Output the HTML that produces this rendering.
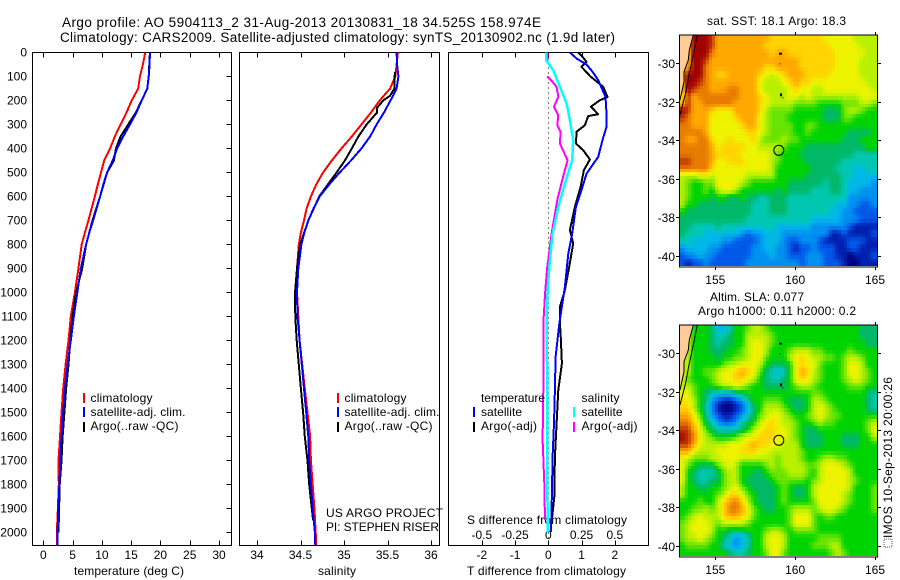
<!DOCTYPE html>
<html>
<head>
<meta charset="utf-8">
<title>Argo profile 5904113</title>
<style>
html,body{margin:0;padding:0;background:#fff;}
svg{display:block;}
text{font-family:"Liberation Sans",sans-serif;font-size:12px;fill:#000;}
</style>
</head>
<body>
<svg id="chart" xmlns="http://www.w3.org/2000/svg" width="900" height="580" viewBox="0 0 900 580">
<rect x="0" y="0" width="900" height="580" fill="#fff"/>
<text x="62" y="27" textLength="479" lengthAdjust="spacing" style="font-size:13.5px">Argo profile: AO 5904113_2 31-Aug-2013 20130831_18 34.525S 158.974E</text>
<text x="60" y="42" textLength="555" lengthAdjust="spacing" style="font-size:13.5px">Climatology: CARS2009. Satellite-adjusted climatology: synTS_20130902.nc (1.9d later)</text>
<text x="74" y="575" textLength="110" lengthAdjust="spacing">temperature (deg C)</text>
<text x="318" y="575" textLength="38" lengthAdjust="spacing">salinity</text>
<text x="467" y="575" textLength="159" lengthAdjust="spacing">T difference from climatology</text>
<text x="467" y="524" textLength="160" lengthAdjust="spacing">S difference from climatology</text>
<g id="panels"></g>
<g>
<rect x="83" y="393" width="2" height="10" fill="#f00"/>
<rect x="83" y="407" width="2" height="10" fill="#00f"/>
<rect x="83" y="422" width="2" height="10" fill="#000"/>
<text x="90.5" y="402" textLength="62" lengthAdjust="spacing">climatology</text>
<text x="90.5" y="416" textLength="95" lengthAdjust="spacing">satellite-adj. clim.</text>
<text x="90.5" y="430" textLength="88" lengthAdjust="spacing">Argo(..raw -QC)</text>
</g>
<g>
<rect x="337" y="393" width="2" height="10" fill="#f00"/>
<rect x="337" y="407" width="2" height="10" fill="#00f"/>
<rect x="337" y="422" width="2" height="10" fill="#000"/>
<text x="344.5" y="402" textLength="62" lengthAdjust="spacing">climatology</text>
<text x="344.5" y="416" textLength="95" lengthAdjust="spacing">satellite-adj. clim.</text>
<text x="344.5" y="430" textLength="88" lengthAdjust="spacing">Argo(..raw -QC)</text>
<text x="326" y="517" textLength="117" lengthAdjust="spacing">US ARGO PROJECT</text>
<text x="326" y="531" textLength="113" lengthAdjust="spacing">PI: STEPHEN RISER</text>
</g>
<g>
<text x="481" y="402" textLength="64" lengthAdjust="spacing">temperature</text>
<rect x="473" y="407" width="2" height="10" fill="#00f"/>
<text x="481" y="416" textLength="41" lengthAdjust="spacing">satellite</text>
<rect x="473" y="422" width="2" height="10" fill="#000"/>
<text x="481" y="430" textLength="56" lengthAdjust="spacing">Argo(-adj)</text>
<text x="581.5" y="402" textLength="38" lengthAdjust="spacing">salinity</text>
<rect x="573" y="407" width="2" height="10" fill="#0ff"/>
<text x="581.5" y="416" textLength="41" lengthAdjust="spacing">satellite</text>
<rect x="573" y="422" width="2" height="10" fill="#f0f"/>
<text x="581.5" y="430" textLength="56" lengthAdjust="spacing">Argo(-adj)</text>
</g>
<text x="707" y="25" textLength="139" lengthAdjust="spacing">sat. SST: 18.1  Argo: 18.3</text>
<text x="710" y="301" textLength="94" lengthAdjust="spacing">Altim. SLA: 0.077</text>
<text x="698" y="315" textLength="158" lengthAdjust="spacing">Argo h1000: 0.11 h2000: 0.2</text>
<g id="maps"></g>
<g>
<rect x="884" y="539" width="8" height="8" fill="none" stroke="#555" stroke-width="1" stroke-dasharray="1 1"/>
<text transform="translate(892,538) rotate(-90)" textLength="161" lengthAdjust="spacing">IMOS 10-Sep-2013 20:00:26</text>
</g>
</svg>
<script>
var depthTicks = [0,100,200,300,400,500,600,700,800,900,1000,1100,1200,1300,1400,1500,1600,1700,1800,1900,2000];
var tempTicks = [0,5,10,15,20,25,30];
var salTicks = [34,34.5,35,35.5,36];
var salTickLabels = ['34','34.5','35','35.5','36'];
var tDiffTicks = [-2,-1,0,1,2];
var sDiffTicks = [-0.5,-0.25,0,0.25,0.5];
var sDiffTickLabels = ['-0.5','-0.25','0','0.25','0.5'];
var lonTicks = [155,160,165];
var latTicks = [-30,-32,-34,-36,-38,-40];

var profileDepths = [0,50,100,150,200,250,300,350,400,450,500,550,600,650,700,750,800,900,1000,1100,1200,1300,1400,1500,1600,1700,1800,1900,2000,2056];
var tempClim = [17.4,17.0,16.5,16.2,15.1,14.2,13.2,12.2,11.4,10.4,9.85,9.3,8.8,8.25,7.7,7.1,6.55,6.0,5.4,4.7,4.3,3.8,3.4,3.1,2.85,2.6,2.65,2.5,2.3,2.3];
var tempSat = [18.2,18.15,18.0,17.75,16.8,15.9,14.8,13.65,12.6,11.85,10.9,10.25,9.7,9.1,8.5,7.85,7.3,6.4,5.8,5.2,4.7,4.15,3.7,3.4,3.1,2.9,2.75,2.55,2.45,2.4];
var tempArgoDepths = [0,100,150,200,250,300,350,400,450,500,600,700,800,900,1000,1100,1200,1300,1400,1500,1600,1700,1800,1900,2000];
var tempArgo = [18.2,18.0,17.75,16.8,15.8,14.5,13.2,12.4,12.05,10.9,9.7,8.4,7.3,6.65,5.6,5.0,4.6,4.3,3.9,3.6,3.3,3.1,2.8,2.7,2.6];

var salClim = [35.62,35.605,35.59,35.53,35.41,35.31,35.2,35.09,34.97,34.86,34.76,34.68,34.62,34.57,34.54,34.505,34.48,34.46,34.46,34.475,34.49,34.52,34.55,34.58,34.61,34.62,34.64,34.66,34.675,34.68];
var salSat = [35.605,35.61,35.625,35.605,35.535,35.46,35.375,35.3,35.2,35.08,34.95,34.83,34.72,34.65,34.59,34.545,34.51,34.475,34.46,34.465,34.49,34.515,34.54,34.565,34.59,34.6,34.62,34.64,34.665,34.67];
var salArgoDepths = [80,100,150,180,200,230,250,300,350,400,450,500,600,700,800,900,1000,1100,1200,1300,1400,1500,1600,1700,1800,1900,1950];
var salArgo = [35.59,35.58,35.58,35.53,35.45,35.38,35.38,35.26,35.165,35.09,35.01,34.915,34.715,34.59,34.495,34.46,34.437,34.44,34.456,34.48,34.505,34.53,34.55,34.58,34.6,34.63,34.645];

var tDiffSatDepths = [0,25,50,80,115,185,255,310,365,435,505,560,643,754,838,976,1129,1268,1406,1545,1684,1823,1997];
var tDiffSat = [0.65,0.85,1.15,1.33,1.5,1.72,1.75,1.75,1.63,1.5,1.15,1.03,0.83,0.72,0.6,0.5,0.33,0.22,0.2,0.17,0.13,0.11,0.08];
var tDiffArgoDepths = [0,18,39,60,100,143,185,199,226,257,265,303,330,379,407,446,490,560,643,740,796,893,990,1060,1129,1170,1296,1406,1545,1684,1850,1960];
var tDiffArgo = [0.9,1.03,1.15,1.0,1.27,1.65,1.78,1.55,1.28,1.5,1.2,1.1,0.85,0.83,1.05,1.25,1.07,0.97,0.8,0.65,0.75,0.63,0.5,0.35,0.35,0.37,0.41,0.3,0.25,0.2,0.18,0.1];
var sDiffSatDepths = [0,32,74,143,212,282,365,449,532,643,754,893,990,1129,1406,1684,1960,2000];
var sDiffSat = [-0.0175,-0.0175,0.0375,0.0875,0.1375,0.1625,0.1875,0.18,0.1325,0.075,0.0325,0.0075,-0.005,-0.0125,-0.0075,-0.0075,-0.005,-0.005];
var sDiffArgoTopDepths = [4,40];
var sDiffArgoTop = [-0.0075,-0.0075];
var sDiffArgoDepths = [100,115,143,185,226,261,303,330,379,449,505,615,754,893,990,1129,1268,1406,1614,1794,1947];
var sDiffArgo = [-0.0075,0.02,0.0625,0.075,0.0425,0.075,0.0675,0.0925,0.0875,0.145,0.1175,0.0675,0.025,-0.0075,-0.0225,-0.0375,-0.0375,-0.0375,-0.0425,-0.03,-0.025];

var sstGrid = [
[12,12,15,15,15,14,12,12,12,12,12,12,12,12,12,11,11,11,11,11,11,11,11,11,10,10,10,10,10,9,9,9,9],
[12,12,15,15,15,14,12,12,12,12,12,12,12,12,11,11,11,11,11,11,11,11,11,11,11,10,10,10,10,10,9,9,9],
[12,12,15,15,15,13,12,12,12,12,12,12,12,12,12,11,12,12,11,11,11,11,11,11,11,11,10,10,10,10,10,9,9],
[12,12,15,15,14,12,12,12,12,12,12,12,12,12,12,12,12,12,12,12,11,11,11,11,11,11,10,10,10,10,9,9,9],
[12,12,15,15,13,12,12,12,12,12,12,12,12,12,11,11,12,12,12,12,11,11,11,11,11,11,10,10,10,10,9,9,9],
[12,15,15,15,13,12,11,11,12,12,12,12,12,11,10,9,10,11,12,12,12,11,11,11,11,10,10,10,10,10,9,9,9],
[12,15,15,14,13,12,12,12,12,12,12,12,12,10,9,9,9,10,11,12,11,11,10,10,10,10,10,10,10,10,10,9,9],
[12,15,14,13,13,12,12,12,13,13,12,12,12,10,9,9,9,9,10,11,10,10,9,9,10,10,10,10,10,10,10,10,9],
[10,14,12,13,13,13,13,13,13,13,12,12,12,11,10,9,9,9,10,10,9,10,9,9,9,9,9,9,9,9,10,10,10],
[12,14,12,12,13,13,13,13,13,12,12,12,12,11,10,9,9,9,9,8,8,8,8,7,7,7,7,8,8,8,9,9,8],
[15,14,12,12,12,11,10,10,10,12,12,12,12,11,9,8,8,8,8,7,7,7,7,7,6,6,6,8,9,9,8,7,7],
[14,13,12,12,12,10,10,10,10,11,12,12,12,10,9,8,8,8,7,7,7,7,7,7,6,6,6,8,8,7,7,7,7],
[13,13,12,12,12,10,10,10,10,10,11,12,12,10,9,8,8,8,8,7,7,8,8,7,7,7,7,7,7,7,7,7,7],
[13,13,13,13,12,10,10,10,10,10,10,11,11,10,9,8,8,8,8,7,7,8,7,7,7,7,7,7,6,6,6,6,7],
[13,12,12,13,13,11,10,10,11,10,10,10,11,9,8,8,8,9,8,8,7,7,7,7,7,7,7,6,6,6,7,7,7],
[13,13,13,13,13,12,10,11,11,11,11,10,10,9,9,9,9,8,7,7,7,6,6,6,6,6,6,6,6,6,6,7,7],
[13,13,13,13,13,12,11,11,11,11,10,10,10,10,10,9,8,7,7,7,6,6,6,6,6,6,6,6,6,5,5,5,5],
[14,14,13,13,13,12,10,10,11,11,11,10,10,10,10,9,8,7,7,7,7,6,6,6,6,6,6,5,5,5,5,5,5],
[13,13,13,13,13,11,10,10,10,10,10,10,10,10,10,9,7,7,7,7,7,7,6,6,6,6,5,5,5,4,4,5,5],
[9,9,9,10,10,9,10,10,10,10,10,9,9,9,9,9,7,7,7,7,7,6,6,6,6,6,6,5,5,4,4,4,4],
[9,8,7,7,8,8,10,10,10,10,9,8,7,7,7,7,7,7,6,6,6,6,6,6,5,6,6,5,4,4,4,4,3],
[9,8,7,7,8,7,9,10,10,9,7,7,7,7,7,7,6,7,6,6,6,6,5,5,5,6,6,5,4,4,3,3,3],
[9,8,7,7,7,6,7,7,6,6,7,6,6,5,5,6,6,6,5,5,5,5,5,5,5,5,5,5,3,3,3,3,3],
[9,7,7,6,6,6,6,6,6,6,6,6,5,5,5,6,6,6,5,5,5,5,5,5,5,5,4,4,3,3,2,2,3],
[7,6,6,6,6,6,6,6,6,6,6,6,5,5,5,6,6,6,5,5,5,5,5,5,5,4,4,3,3,2,2,2,2],
[6,6,6,6,6,6,6,6,6,6,6,5,5,5,5,5,5,5,5,5,5,5,4,4,4,4,4,3,3,3,2,2,2],
[6,6,5,5,5,5,6,5,5,5,5,5,5,5,5,5,4,4,4,4,4,4,3,3,3,3,3,3,2,1,1,1,1],
[6,5,5,5,4,4,4,4,4,4,3,2,3,3,4,4,4,3,3,3,3,3,3,3,3,1,1,2,1,1,1,1,2],
[5,5,4,4,4,4,4,3,3,2,2,2,2,3,4,4,4,3,2,2,3,3,3,2,1,1,1,1,2,2,2,1,1],
[3,4,4,4,4,3,3,2,2,2,2,2,3,3,4,4,3,3,2,1,2,2,3,2,2,2,1,1,2,2,1,1,1],
[2,3,3,4,3,3,2,2,2,2,2,2,3,3,3,4,3,3,2,2,2,3,3,3,2,2,1,1,0,1,1,1,2],
[2,1,2,2,3,2,2,2,2,2,2,3,3,3,3,3,3,3,3,3,2,3,3,3,2,2,2,1,0,0,1,1,1]
];

var slaGrid = [
[9,9,7,7,7,6,4,4,5,7,7,8,9,9,8,7,7,7,7,7,7,7,7,7,7,7,7,7,7,7,6,6,6],
[9,9,7,7,7,6,5,5,6,7,7,9,9,9,9,8,7,7,7,7,7,7,7,7,7,7,7,7,7,7,6,6,6],
[9,9,7,7,7,6,5,6,6,7,7,9,10,10,9,8,7,7,7,7,7,7,7,7,7,7,7,7,7,7,7,6,6],
[9,9,7,7,7,6,6,6,7,7,8,9,10,10,9,7,7,7,8,9,9,9,8,8,7,7,7,7,8,7,7,7,7],
[9,9,7,7,7,7,6,7,7,8,8,9,10,10,8,7,7,7,9,10,11,10,9,9,8,8,7,8,9,9,8,7,7],
[9,9,7,7,7,7,7,8,9,9,10,10,10,9,7,6,6,6,7,10,11,10,10,8,7,7,7,8,10,10,9,7,7],
[9,9,7,7,8,8,9,10,10,11,12,11,10,8,6,5,4,5,7,10,12,11,9,8,7,7,7,8,10,10,9,8,7],
[9,8,7,7,7,8,9,10,10,11,11,10,9,7,6,5,5,6,7,10,11,10,9,8,7,7,7,8,9,10,9,8,7],
[9,9,8,7,7,7,8,9,9,10,9,8,7,7,6,6,6,6,7,8,9,9,8,7,7,7,7,7,8,8,8,7,7],
[10,10,8,7,6,5,4,4,4,5,6,7,7,7,7,7,7,7,7,7,7,7,8,8,7,7,7,7,7,7,7,6,5],
[11,10,9,7,6,3,2,1,1,2,3,5,7,7,8,8,8,7,6,6,6,7,9,9,8,7,7,7,7,7,7,6,5],
[11,11,9,7,5,3,1,0,0,1,2,4,6,7,9,9,9,8,7,6,6,7,9,10,9,8,7,7,7,7,7,6,5],
[12,12,10,8,6,3,2,1,1,2,3,5,6,8,9,10,10,9,8,7,7,8,9,10,9,8,8,7,7,7,7,7,7],
[13,13,11,9,6,5,3,2,2,3,5,6,7,9,10,11,10,9,9,8,7,7,8,9,8,8,7,7,7,7,7,8,9],
[14,14,12,10,8,6,5,5,5,5,6,7,9,10,11,11,10,10,9,8,7,6,6,7,7,7,7,7,7,7,7,8,10],
[15,14,13,10,9,8,7,7,7,8,9,10,10,11,11,11,10,10,9,8,7,6,6,6,7,7,7,6,6,6,7,7,9],
[14,14,12,10,9,9,9,9,10,10,10,11,12,11,11,10,10,9,9,9,7,6,6,6,7,7,7,6,6,6,7,7,7],
[12,12,10,9,9,9,10,10,10,10,11,11,11,10,10,9,9,9,9,9,8,7,7,7,7,7,7,7,7,7,7,7,7],
[10,9,8,8,8,9,9,10,10,10,9,9,9,9,9,9,8,9,9,9,8,7,7,8,9,9,8,8,7,7,7,7,7],
[10,8,7,6,6,6,8,9,10,9,7,7,7,7,8,9,8,9,9,9,9,8,8,9,10,10,10,9,8,7,7,7,7],
[10,7,6,5,5,5,6,8,9,9,7,7,6,6,7,8,8,8,9,9,9,8,7,9,10,10,10,10,9,7,7,7,7],
[10,7,6,5,5,6,6,8,9,9,7,6,6,6,6,7,8,8,8,8,8,7,8,9,10,10,10,10,9,8,7,7,7],
[9,7,7,6,6,7,7,8,9,10,8,7,6,6,6,6,7,8,7,6,6,7,9,10,10,10,10,10,9,7,7,7,8],
[9,7,7,7,7,7,8,9,11,11,10,8,7,6,6,6,7,8,7,6,6,7,9,10,10,10,10,9,8,7,7,7,8],
[7,7,7,8,7,7,9,11,12,13,11,9,7,6,6,6,7,8,7,7,7,7,8,10,10,10,10,9,8,7,7,7,8],
[7,7,8,8,9,8,9,11,13,13,12,10,8,7,6,6,7,7,8,9,9,9,8,9,10,10,9,8,7,7,7,7,8],
[7,8,9,10,9,9,9,11,12,12,11,10,8,7,7,7,7,7,8,10,10,10,8,7,8,8,7,7,7,7,7,7,7],
[8,9,10,10,10,9,8,9,9,9,9,8,7,7,7,7,7,7,8,10,10,10,8,7,7,7,7,7,7,7,7,7,7],
[8,9,10,10,10,9,7,7,6,6,6,7,7,7,8,9,9,8,7,8,8,8,8,7,7,7,7,7,7,7,7,7,7],
[8,9,9,10,9,8,7,6,5,3,4,5,7,7,9,10,10,9,7,7,7,7,7,8,8,8,8,7,7,7,7,7,7],
[7,8,8,8,8,7,7,5,4,3,4,5,7,7,9,10,10,9,7,7,7,7,8,8,8,9,9,7,7,7,7,7,7],
[7,7,7,7,7,7,7,7,6,5,5,6,7,7,8,10,10,8,7,7,7,7,7,7,7,8,9,8,7,7,7,7,7]
];

var NS = 'http://www.w3.org/2000/svg';
var mapPalette = [[0,0,128],[0,32,176],[0,88,232],[0,144,240],[0,184,232],[0,200,176],[0,184,104],[0,212,0],[104,228,0],[184,240,0],[238,244,0],[255,212,0],[255,168,0],[232,124,0],[192,52,0],[160,0,0]];
var panelTop = 52.5, panelBottom = 545.5;

function depthY(d){ return 52.5 + 0.24*d; }
function tempX(t){ return 43.3 + 5.857*t; }
function salX(s){ return 257 + 87*(s-34); }
function tDiffX(t){ return 548.3 + 33.25*t; }
function sDiffX(s){ return 548.3 + 133*s; }
function lonX(l){ return 715.3 + 15.97*(l-155); }
function latY(top,l){ return top + 28 + 19.3*(-30-l); }
function sx(v){ return Math.round(v)+0.5; }
function mapColor(v){
  var i = Math.max(0,Math.min(mapPalette.length-1,v));
  var a = Math.floor(i), b = Math.min(mapPalette.length-1,a+1), f = i-a;
  var pa = mapPalette[a], pb = mapPalette[b];
  return 'rgb('+Math.round(pa[0]+(pb[0]-pa[0])*f)+','+Math.round(pa[1]+(pb[1]-pa[1])*f)+','+Math.round(pa[2]+(pb[2]-pa[2])*f)+')';
}
function sampleGrid(grid,rf,cf){
  var rows = grid.length, cols = grid[0].length;
  var r = Math.max(0,Math.min(rows-1,rf)), c = Math.max(0,Math.min(cols-1,cf));
  var r0 = Math.floor(r), c0 = Math.floor(c);
  var r1 = Math.min(rows-1,r0+1), c1 = Math.min(cols-1,c0+1);
  var fr = r-r0, fc = c-c0;
  return (grid[r0][c0]*(1-fc)+grid[r0][c1]*fc)*(1-fr)+(grid[r1][c0]*(1-fc)+grid[r1][c1]*fc)*fr;
}

function makeLine(parent,x1,y1,x2,y2,name){
  var el = document.createElementNS(NS,'line');
  el.setAttribute('x1',x1);
  el.setAttribute('y1',y1);
  el.setAttribute('x2',x2);
  el.setAttribute('y2',y2);
  el.setAttribute('stroke','#000');
  el.setAttribute('stroke-width','1');
  el.setAttribute('shape-rendering','crispEdges');
  
  
  parent.appendChild(el);
  return el;
}
function makeText(parent,x,y,str,anchor,name){
  var el = document.createElementNS(NS,'text');
  el.setAttribute('x',x);
  el.setAttribute('y',y);
  el.setAttribute('text-anchor',anchor);
  el.textContent = str;
  
  
  parent.appendChild(el);
  return el;
}
function makeSeries(parent,depths,values,xFn,color,width,name){
  var d = '';
  for (var i=0;i<values.length;i++){
    d += (i?'L':'M') + xFn(values[i]).toFixed(1) + ' ' + depthY(depths[i]).toFixed(1);
  }
  var el = document.createElementNS(NS,'path');
  el.setAttribute('d',d);
  el.setAttribute('fill','none');
  el.setAttribute('stroke',color);
  el.setAttribute('stroke-width',width);
  el.setAttribute('stroke-linejoin','round');
  el.setAttribute('shape-rendering','crispEdges');
  
  
  parent.appendChild(el);
  return el;
}
function makePanel(name,left,right,xFn,ticks,labels,yTicks,labelY){
  var g = document.createElementNS(NS,'g');
  
  
  document.getElementById('panels').appendChild(g);
  var frame = document.createElementNS(NS,'rect');
  frame.setAttribute('x',left);
  frame.setAttribute('y',panelTop);
  frame.setAttribute('width',right-left);
  frame.setAttribute('height',panelBottom-panelTop);
  frame.setAttribute('fill','none');
  frame.setAttribute('stroke','#000');
  frame.setAttribute('shape-rendering','crispEdges');
  
  
  g.appendChild(frame);
  for (var i=0;i<ticks.length;i++){
    var x = sx(xFn(ticks[i]));
    makeLine(g,x,panelTop,x,panelTop+5,'x-tick-top');
    makeLine(g,x,panelBottom-5,x,panelBottom,'x-tick-bottom');
    makeText(g,xFn(ticks[i]),labelY,labels[i],'middle','x-tick-label');
  }
  if (yTicks){
    for (var j=0;j<yTicks.length;j++){
      var y = sx(depthY(yTicks[j])-0.5);
      makeLine(g,right-5,y,right,y,'y-tick');
      makeText(g,27,y+4,String(yTicks[j]),'end','y-tick-label');
    }
  }
  return g;
}

var tempPanel = makePanel('temperature-panel',32.5,231.5,tempX,tempTicks,tempTicks.map(String),depthTicks,559);
makeSeries(tempPanel,profileDepths,tempClim,tempX,'#f00',2,'temperature-climatology-line');
makeSeries(tempPanel,tempArgoDepths,tempArgo,tempX,'#000',2,'temperature-argo-line');
makeSeries(tempPanel,profileDepths,tempSat,tempX,'#00f',2,'temperature-satellite-line');

var salPanel = makePanel('salinity-panel',239.5,439.5,salX,salTicks,salTickLabels,null,559);
makeSeries(salPanel,profileDepths,salClim,salX,'#f00',2,'salinity-climatology-line');
makeSeries(salPanel,salArgoDepths,salArgo,salX,'#000',2,'salinity-argo-line');
makeSeries(salPanel,profileDepths,salSat,salX,'#00f',2,'salinity-satellite-line');

var diffPanel = makePanel('difference-panel',448.5,648.5,tDiffX,tDiffTicks,tDiffTicks.map(String),null,559);
for (var k=0;k<sDiffTicks.length;k++){
  makeText(diffPanel,sDiffX(sDiffTicks[k]),539,sDiffTickLabels[k],'middle','s-difference-tick-label');
}
var zeroLine = makeLine(diffPanel,sx(tDiffX(0)),panelTop,sx(tDiffX(0)),panelBottom,'zero-difference-line');
zeroLine.setAttribute('stroke-dasharray','1 4');
makeSeries(diffPanel,tDiffArgoDepths,tDiffArgo,tDiffX,'#000',2,'t-difference-argo-line');
makeSeries(diffPanel,tDiffSatDepths,tDiffSat,tDiffX,'#00f',2,'t-difference-satellite-line');
makeSeries(diffPanel,sDiffArgoTopDepths,sDiffArgoTop,sDiffX,'#f0f',2,'s-difference-argo-top-line');
makeSeries(diffPanel,sDiffArgoDepths,sDiffArgo,sDiffX,'#f0f',2,'s-difference-argo-line');
makeSeries(diffPanel,sDiffSatDepths,sDiffSat,sDiffX,'#0ff',2.5,'s-difference-satellite-line');

function makeMap(name,grid,top,landColor){
  var g = document.createElementNS(NS,'g');
  
  
  document.getElementById('maps').appendChild(g);
  var left = 679.5, w = 197, h = 231, sub = 2;
  var cols = grid[0].length*sub, rows = grid.length*sub;
  for (var r=0;r<rows;r++){
    var y0 = Math.round(top + r*h/rows), y1 = Math.round(top + (r+1)*h/rows);
    for (var c=0;c<cols;c++){
      var x0 = Math.round(left + c*w/cols), x1 = Math.round(left + (c+1)*w/cols);
      var value = sampleGrid(grid,(r+0.5)/sub-0.5,(c+0.5)/sub-0.5);
      var cell = document.createElementNS(NS,'rect');
      cell.setAttribute('x',x0);
      cell.setAttribute('y',y0);
      cell.setAttribute('width',x1-x0);
      cell.setAttribute('height',y1-y0);
      cell.setAttribute('fill',mapColor(value));
      cell.setAttribute('shape-rendering','crispEdges');
      
      
      g.appendChild(cell);
    }
  }
  function px(X){ return (660+X/3).toFixed(1); }
  function py(Y){ return (top-35+Y/3).toFixed(1); }
  var coastA = [[100,105],[88,150],[85,180],[72,215],[72,245],[62,290],[60,300]];
  var coastB = [[112,105],[100,165],[85,235],[78,275],[60,345]];
  var landPts = px(58)+','+py(105);
  coastA.forEach(function(p){ landPts += ' '+px(p[0])+','+py(p[1]); });
  landPts += ' '+px(58)+','+py(300);
  var land = document.createElementNS(NS,'polygon');
  land.setAttribute('points',landPts);
  land.setAttribute('fill',landColor);
  
  
  g.appendChild(land);
  [coastA,coastB].forEach(function(line){
    var pts = line.map(function(p){ return px(p[0])+','+py(p[1]); }).join(' ');
    var coast = document.createElementNS(NS,'polyline');
    coast.setAttribute('points',pts);
    coast.setAttribute('fill','none');
    coast.setAttribute('stroke','#000');
    coast.setAttribute('stroke-width','1');
    
    
    g.appendChild(coast);
  });
  [[357,158,3,2],[358,190,1,1],[360,280,2,3],[367,292,1,1]].forEach(function(p){
    var isl = document.createElementNS(NS,'rect');
    isl.setAttribute('x',px(p[0]));
    isl.setAttribute('y',py(p[1]));
    isl.setAttribute('width',p[2]);
    isl.setAttribute('height',p[3]);
    isl.setAttribute('fill','#000');
    
    
    g.appendChild(isl);
  });
  var frame = document.createElementNS(NS,'rect');
  frame.setAttribute('x',679.5);
  frame.setAttribute('y',top);
  frame.setAttribute('width',198);
  frame.setAttribute('height',232);
  frame.setAttribute('fill','none');
  frame.setAttribute('stroke','#000');
  frame.setAttribute('shape-rendering','crispEdges');
  
  
  g.appendChild(frame);
  for (var i=0;i<lonTicks.length;i++){
    var x = sx(lonX(lonTicks[i]));
    makeLine(g,x,top-3,x,top,'lon-tick-top');
    makeLine(g,x,top+232,x,top+235,'lon-tick-bottom');
    makeText(g,lonX(lonTicks[i]),top+249,String(lonTicks[i]),'middle','lon-tick-label');
  }
  for (var j=0;j<latTicks.length;j++){
    var y = sx(latY(top,latTicks[j]));
    makeLine(g,676,y,679.5,y,'lat-tick-left');
    makeLine(g,877.5,y,881,y,'lat-tick-right');
    makeText(g,675,y+4.5,String(latTicks[j]),'end','lat-tick-label');
  }
  var marker = document.createElementNS(NS,'circle');
  marker.setAttribute('cx',lonX(158.974).toFixed(1));
  marker.setAttribute('cy',latY(top,-34.525).toFixed(1));
  marker.setAttribute('r','5');
  marker.setAttribute('fill','none');
  marker.setAttribute('stroke','#000');
  marker.setAttribute('stroke-width','1');
  
  
  g.appendChild(marker);
}
makeMap('sst-map',sstGrid,35,'#ffcc99');
makeMap('sla-map',slaGrid,325,'#ffcc99');
</script>
</body>
</html>
